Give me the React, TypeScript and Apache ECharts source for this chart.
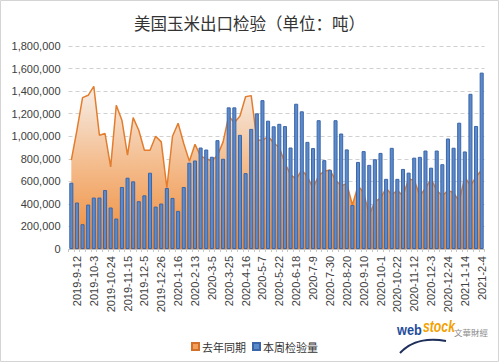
import React, { useEffect, useRef } from "react";
import * as echarts from "echarts";

const categories = [
  "2019-9-5", "2019-9-12", "2019-9-19", "2019-9-26", "2019-10-3", "2019-10-10", "2019-10-17", "2019-10-24", "2019-10-31", "2019-11-7",
  "2019-11-15", "2019-11-21", "2019-11-28", "2019-12-5", "2019-12-12", "2019-12-19", "2019-12-26", "2020-1-2", "2020-1-9", "2020-1-16",
  "2020-1-30", "2020-2-6", "2020-2-13", "2020-2-20", "2020-2-27", "2020-3-5", "2020-3-12", "2020-3-19", "2020-3-25", "2020-4-2",
  "2020-4-9", "2020-4-16", "2020-4-23", "2020-4-30", "2020-5-7", "2020-5-14", "2020-5-18", "2020-5-22", "2020-6-4", "2020-6-11",
  "2020-6-18", "2020-6-25", "2020-7-2", "2020-7-9", "2020-7-16", "2020-7-23", "2020-7-30", "2020-8-6", "2020-8-13", "2020-8-20",
  "2020-8-27", "2020-9-3", "2020-9-10", "2020-9-17", "2020-9-24", "2020-10-1", "2020-10-8", "2020-10-15", "2020-10-22", "2020-10-29",
  "2020-11-5", "2020-11-12", "2020-11-19", "2020-11-26", "2020-12-3", "2020-12-10", "2020-12-17", "2020-12-24", "2020-12-31", "2021-1-7",
  "2021-1-14", "2021-1-21", "2021-1-28", "2021-2-4",
];

// 去年同期 (tonnes)
const lastYear = [
  788000, 1053000, 1342000, 1363000, 1442000, 1009000, 1024000, 728000, 1274000, 1142000,
  832000, 1165000, 1053000, 876000, 876000, 1000000, 950000, 543000, 1000000, 1115000,
  935000, 779000, 929000, 823000, 800000, 780000, 830000, 950000, 1180000, 1120000,
  1180000, 1350000, 1360000, 970000, 960000, 1000000, 940000, 900000, 760000, 660000,
  620000, 700000, 640000, 540000, 650000, 690000, 700000, 610000, 560000, 580000,
  390000, 560000, 500000, 300000, 420000, 450000, 540000, 480000, 520000, 470000,
  620000, 610000, 470000, 540000, 620000, 520000, 470000, 520000, 500000, 420000,
  640000, 560000, 640000, 700000,
];

// 本周检验量 (tonnes)
const thisWeek = [
  588000, 412000, 220000, 394000, 456000, 456000, 523000, 368000, 270000, 550000,
  632000, 600000, 424000, 476000, 676000, 376000, 403000, 541000, 453000, 338000,
  550000, 765000, 785000, 900000, 882000, 818000, 965000, 800000, 1256000, 1256000,
  1012000, 673000, 1065000, 1203000, 1320000, 1138000, 1088000, 1110000, 1090000, 900000,
  1288000, 1221000, 950000, 895000, 1142000, 788000, 702000, 1142000, 1024000, 883000,
  390000, 772000, 868000, 746000, 796000, 852000, 622000, 897000, 622000, 710000,
  677000, 810000, 817000, 873000, 721000, 873000, 752000, 980000, 898000, 1120000,
  865000, 1376000, 1091000, 1564000,
];

const seriesNames = ["去年同期", "本周检验量"];
const titleText = "美国玉米出口检验（单位：吨）";

export default function App() {
  const ref = useRef<HTMLDivElement>(null);

  useEffect(() => {
    document.body.style.margin = "0";
    const chart = echarts.init(ref.current!, null, { renderer: "svg" });
    const latin = "'Liberation Sans', Arial, sans-serif";
    const cjk = "'Noto Sans CJK SC', sans-serif";
    chart.setOption({
      animation: false,
      backgroundColor: "#ffffff",
      title: {
        text: titleText,
        left: "center",
        top: 10,
        textStyle: { fontSize: 16.5, fontWeight: "normal", color: "#333333", fontFamily: cjk },
      },
      grid: { left: 68.5, right: 14.5, top: 46, bottom: 113, containLabel: false },
      legend: {
        left: 186,
        top: 336,
        itemWidth: 7,
        itemHeight: 7,
        itemGap: 6,
        textStyle: { fontSize: 11, color: "#333333", fontFamily: cjk, padding: [0, 0, 0, -2] },
        data: [
          { name: seriesNames[0], icon: "rect" },
          { name: seriesNames[1], icon: "rect" },
        ],
      },
      xAxis: {
        type: "category",
        data: categories,
        boundaryGap: true,
        axisLine: { lineStyle: { color: "#c0c0c0", width: 1 } },
        axisTick: { show: true, interval: 0, length: 3, lineStyle: { color: "#c8c8c8" } },
        axisLabel: {
          rotate: 90,
          interval: (i: number) => i % 3 === 1,
          fontSize: 11,
          color: "#404040",
          fontFamily: latin,
          margin: 7,
        },
      },
      yAxis: {
        type: "value",
        min: 0,
        max: 1800000,
        interval: 200000,
        axisLine: { show: false },
        axisTick: { show: false },
        axisLabel: {
          fontSize: 11,
          color: "#404040",
          fontFamily: latin,
          margin: 8,
          formatter: (v: number) => v.toLocaleString("en-US"),
        },
        splitLine: { lineStyle: { color: "#d0d0d0", type: [4, 3], width: 1 } },
      },
      series: [
        {
          name: seriesNames[0],
          type: "line",
          data: lastYear,
          symbol: "none",
          color: "#F4A05A",
          itemStyle: { color: "#F4A05A", borderColor: "#D2722A", borderWidth: 1 },
          lineStyle: { color: "#E37D2E", width: 1.5 },
          areaStyle: {
            opacity: 1,
            color: new echarts.graphic.LinearGradient(0, 0, 0, 1, [
              { offset: 0, color: "#F6EEE8" },
              { offset: 0.45, color: "#F4BF92" },
              { offset: 1, color: "#EF8A36" },
            ]),
          },
          z: 1,
        },
        {
          name: seriesNames[1],
          type: "bar",
          data: thisWeek,
          barWidth: "72%",
          color: "#5D8ACB",
          itemStyle: { color: "#5D8ACB", borderColor: "#3A66A8", borderWidth: 1 },
          z: 2,
        },
      ],
      graphic: [
        {
          type: "rect",
          shape: { x: 0.5, y: 0.5, width: 498, height: 361 },
          style: { fill: "none", stroke: "#d4d4d4", lineWidth: 1 },
          silent: true,
        },
        {
          type: "bezierCurve",
          shape: { x1: 400, y1: 353, x2: 446, y2: 341, cpx1: 412, cpy1: 340, cpx2: 430, cpy2: 338 },
          style: { stroke: "#1d2f5a", lineWidth: 2, fill: "none" },
          silent: true,
        },
        {
          type: "text",
          x: 397,
          y: 322,
          scaleX: 0.85,
          style: {
            text: "web",
            fill: "#1F4E9C",
            font: "bold 15px 'Liberation Sans', sans-serif",
          },
          silent: true,
        },
        {
          type: "text",
          x: 423,
          y: 318,
          scaleX: 0.72,
          style: {
            text: "stock",
            fill: "#F2A100",
            font: "italic bold 17px 'Liberation Sans', sans-serif",
          },
          silent: true,
        },
        {
          type: "text",
          x: 454,
          y: 328,
          style: {
            text: "文華財經",
            fill: "#8a8a8a",
            font: "8.5px 'Noto Sans CJK TC', sans-serif",
          },
          silent: true,
        },
      ],
    });
    return () => chart.dispose();
  }, []);

  return (
    <div style={{ position: "absolute", left: 0, top: 0 }}>
      <div ref={ref} style={{ width: 499, height: 362 }} />
    </div>
  );
}
